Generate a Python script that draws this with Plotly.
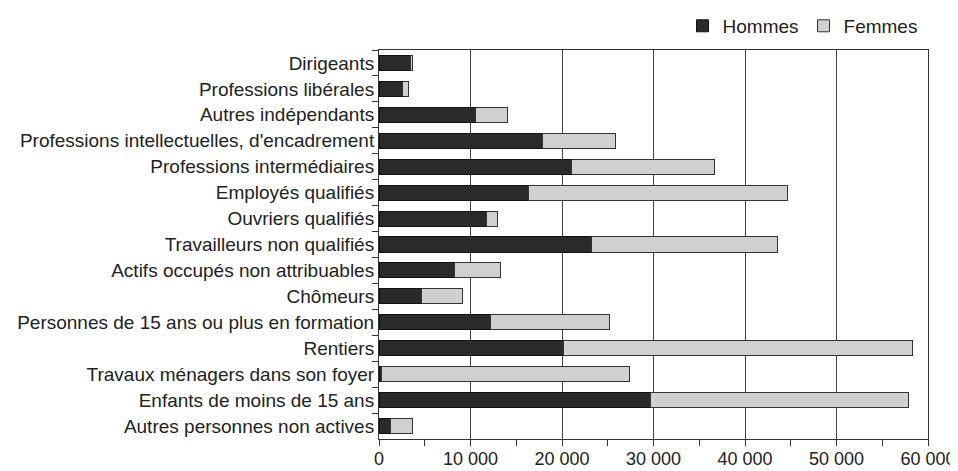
import plotly.graph_objects as go

categories = [
    "Dirigeants",
    "Professions libérales",
    "Autres indépendants",
    "Professions intellectuelles, d'encadrement",
    "Professions intermédiaires",
    "Employés qualifiés",
    "Ouvriers qualifiés",
    "Travailleurs non qualifiés",
    "Actifs occupés non attribuables",
    "Chômeurs",
    "Personnes de 15 ans ou plus en formation",
    "Rentiers",
    "Travaux ménagers dans son foyer",
    "Enfants de moins de 15 ans",
    "Autres personnes non actives",
]
hommes = [3400, 2600, 10500, 17900, 21000, 16300, 11700, 23200, 8300, 4600, 12200, 20200, 300, 29700, 1300]
femmes = [300, 600, 3500, 8000, 15700, 28300, 1300, 20400, 5000, 4500, 13000, 38100, 27100, 28200, 2400]

FONT = "Liberation Sans, Arial, sans-serif"
INK = "#222222"

fig = go.Figure()
fig.add_trace(go.Bar(
    y=categories, x=hommes, orientation="h", name="Hommes",
    marker=dict(color="#2a2a2a", line=dict(color="#111111", width=1)),
    width=0.58,
))
fig.add_trace(go.Bar(
    y=categories, x=femmes, orientation="h", name="Femmes",
    marker=dict(color="#d0d0d0", line=dict(color="#333333", width=1)),
    width=0.58,
))

# la page a une marge de 8 px : on réduit la figure d'autant
fig.update_layout(
    barmode="stack",
    width=950, height=463,
    paper_bgcolor="white", plot_bgcolor="white",
    font=dict(family=FONT, size=19, color=INK),
    margin=dict(l=371, r=30, t=42, b=32, autoexpand=False),
    separators=". ",
    showlegend=True,
    legend=dict(
        orientation="h", x=0.99, xanchor="right", y=1.013, yanchor="bottom",
        font=dict(size=19, color=INK), traceorder="normal",
        bgcolor="rgba(0,0,0,0)",
    ),
    xaxis=dict(
        range=[0, 60000], dtick=10000, tickformat=",d",
        showgrid=True, gridcolor="#444444", gridwidth=1,
        showline=True, linecolor="#333333", linewidth=1, mirror=True,
        ticks="outside", ticklen=6, tickcolor="#333333",
        ticklabelstandoff=-3,
        minor=dict(dtick=5000, ticks="outside", ticklen=6, tickcolor="#333333", showgrid=False),
        zeroline=False, fixedrange=True, automargin=False,
        tickfont=dict(size=18, color=INK),
    ),
    yaxis=dict(
        autorange="reversed", tickson="boundaries",
        ticks="outside", ticklen=6, tickcolor="#333333",
        showline=True, linecolor="#333333", linewidth=1, mirror=True,
        showgrid=False, fixedrange=True, automargin=False,
        tickfont=dict(size=19, color=INK),
    ),
)

fig.write_html("out.html")
